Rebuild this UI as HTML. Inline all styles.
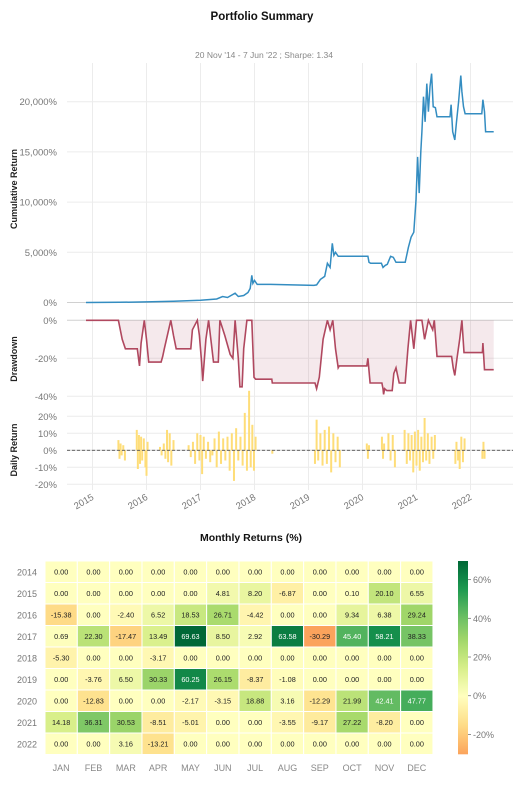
<!DOCTYPE html>
<html><head><meta charset="utf-8">
<style>
html,body{margin:0;padding:0;background:#fff;}
body{width:523px;height:786px;overflow:hidden;font-family:"Liberation Sans",sans-serif;}
svg text{font-family:"Liberation Sans",sans-serif;}
</style></head>
<body>
<svg id="chart" width="523" height="786" viewBox="0 0 523 786">
<text x="262" y="20" text-anchor="middle" font-size="11.5" font-weight="bold" fill="#111">Portfolio Summary</text>
<text x="264" y="58" text-anchor="middle" font-size="8.5" fill="#888">20 Nov '14 -  7 Jun '22 ;  Sharpe: 1.34</text>
<g id="grid"></g>
<g id="cum"></g>
<g id="dd"></g>
<g id="daily"></g>
<text x="251" y="541" text-anchor="middle" font-size="10.5" font-weight="bold" fill="#111">Monthly Returns (%)</text>
<g id="heat"></g>
<g id="cbar"></g>
</svg>
<script>
// ---- data ----
const yearTicks = [2015,2016,2017,2018,2019,2020,2021,2022];
const cumTicks = [0,5000,10000,15000,20000];
const cumTickLabels = ["0%","5,000%","10,000%","15,000%","20,000%"];
const ddTicks = [0,-20,-40];
const ddTickLabels = ["0%","-20%","-40%"];
const dailyTicks = [20,10,0,-10,-20];
const dailyTickLabels = ["20%","10%","0%","-10%","-20%"];

const cumDates = [2014.88,2015.5,2016.0,2016.5,2017.0,2017.3,2017.41,2017.5,2017.64,2017.7,2017.8,2017.88,2017.92,2017.95,2017.97,2018.0,2018.05,2018.3,2019.1,2019.15,2019.22,2019.3,2019.35,2019.4,2019.44,2019.47,2019.5,2019.55,2020.1,2020.12,2020.15,2020.35,2020.38,2020.42,2020.46,2020.52,2020.57,2020.62,2020.79,2020.85,2020.9,2020.95,2020.99,2021.02,2021.05,2021.08,2021.1,2021.13,2021.16,2021.19,2021.22,2021.25,2021.28,2021.31,2021.35,2021.38,2021.62,2021.64,2021.67,2021.71,2021.74,2021.78,2021.82,2021.84,2021.87,2021.9,2022.21,2022.23,2022.26,2022.28,2022.43];
const cumValues = [0,20,60,120,220,350,600,500,930,600,700,1000,1400,2700,1900,2200,1800,1800,1700,1750,2300,2600,3900,3500,5900,4700,5000,4600,4600,4000,3900,3900,3500,3700,3800,4600,4500,4000,4000,5500,6500,7000,10200,14500,10900,15000,17000,20500,18000,21800,19000,21500,22800,19500,19400,18500,18500,19700,17000,16200,18000,20000,22600,21000,19500,18800,18800,20200,19000,17000,17000];

const ddDates = [2014.88,2015.48,2015.55,2015.61,2015.83,2015.87,2015.9,2015.96,2016.0,2016.04,2016.27,2016.3,2016.33,2016.45,2016.5,2016.55,2016.82,2016.85,2016.94,2016.98,2017.02,2017.04,2017.1,2017.15,2017.2,2017.24,2017.33,2017.36,2017.45,2017.55,2017.6,2017.64,2017.7,2017.73,2017.77,2017.8,2017.86,2017.95,2017.99,2018.02,2018.32,2018.33,2019.12,2019.15,2019.2,2019.27,2019.35,2019.4,2019.45,2019.5,2019.55,2019.57,2020.08,2020.1,2020.14,2020.36,2020.38,2020.39,2020.41,2020.45,2020.55,2020.58,2020.62,2020.68,2020.79,2020.84,2020.89,2020.95,2021.0,2021.1,2021.15,2021.22,2021.3,2021.33,2021.38,2021.65,2021.68,2021.71,2021.75,2021.8,2021.84,2021.88,2022.22,2022.23,2022.26,2022.43];
const ddValues = [0,0,-10,-15,-15,-24,-12,0,-10,-22,-22,-19,-15,0,-8,-15,-15,-5,0,-8,-22,-32,-10,0,-12,-22,-22,0,-8,-18,-20,0,-20,-35,-35,-15,0,0,-30,-31,-31,-33,-33,-36,-30,-10,0,-5,0,-15,-25,-24,-24,-20,-33,-33,-36,-39,-36,-37,-37,-28,-25,-33,-33,-15,0,-15,0,0,-10,0,-5,0,-19,-19,-25,-29,-20,-10,0,-17,-17,-12,-26,-26];

const dailyDates = [2015.48,2015.5,2015.52,2015.54,2015.57,2015.6,2015.82,2015.84,2015.86,2015.88,2015.9,2015.92,2015.95,2015.98,2016.0,2016.02,2016.25,2016.28,2016.32,2016.35,2016.38,2016.4,2016.43,2016.46,2016.5,2016.78,2016.82,2016.86,2016.9,2016.94,2016.98,2017.0,2017.03,2017.06,2017.1,2017.14,2017.18,2017.22,2017.26,2017.3,2017.34,2017.38,2017.42,2017.46,2017.5,2017.54,2017.58,2017.62,2017.66,2017.7,2017.74,2017.78,2017.82,2017.86,2017.9,2017.93,2017.96,2017.99,2018.02,2018.33,2019.12,2019.15,2019.18,2019.22,2019.26,2019.3,2019.34,2019.38,2019.42,2019.46,2019.5,2019.54,2019.58,2020.08,2020.1,2020.12,2020.36,2020.38,2020.4,2020.48,2020.52,2020.56,2020.6,2020.78,2020.82,2020.85,2020.88,2020.91,2020.94,2020.97,2021.0,2021.03,2021.06,2021.09,2021.12,2021.15,2021.18,2021.21,2021.24,2021.28,2021.31,2021.34,2021.72,2021.74,2021.77,2021.8,2021.83,2021.86,2021.89,2022.22,2022.24,2022.26];
const dailyValues = [6,-5,4,-3,3,-6,12,-11,9,-8,8,-6,7,-10,-15,5,2,-3,4,-5,12,-7,10,-9,6,3,-4,5,-8,10,-6,9,-14,8,-5,5,-7,-3,7,-10,11,-8,7,-6,8,-12,10,-18,13,-6,8,-9,22,-12,35,-10,15,-12,8,-2,-8,18,-6,10,-9,12,-8,14,-13,10,-7,8,-10,4,-5,3,8,-5,4,10,-6,9,-10,12,-8,10,-6,9,-13,11,-9,12,-12,8,-7,19,-6,10,-8,8,-5,9,-8,5,-6,-11,8,-7,7,-5,5,-5,6,-6,4];

const hmYears = ["2014","2015","2016","2017","2018","2019","2020","2021","2022"];
const hmMonths = ["JAN","FEB","MAR","APR","MAY","JUN","JUL","AUG","SEP","OCT","NOV","DEC"];
const hm2014 = [0,0,0,0,0,0,0,0,0,0,0,0];
const hm2015 = [0,0,0,0,0,4.81,8.20,-6.87,0,0.10,20.10,6.55];
const hm2016 = [-15.38,0,-2.40,6.52,18.53,26.71,-4.42,0,0,9.34,6.38,29.24];
const hm2017 = [0.69,22.30,-17.47,13.49,69.63,8.50,2.92,63.58,-30.29,45.40,58.21,38.33];
const hm2018 = [-5.30,0,0,-3.17,0,0,0,0,0,0,0,0];
const hm2019 = [0,-3.76,6.50,30.33,60.25,26.15,-8.37,-1.08,0,0,0,0];
const hm2020 = [0,-12.83,0,0,-2.17,-3.15,18.88,3.16,-12.29,21.99,42.41,47.77];
const hm2021 = [14.18,36.31,30.53,-8.51,-5.01,0,0,-3.55,-9.17,27.22,-8.20,0];
const hm2022 = [0,0,3.16,-13.21,0,0,0,0,0,0,0,0];
const hmRows = [hm2014,hm2015,hm2016,hm2017,hm2018,hm2019,hm2020,hm2021,hm2022];
const cbTicks = [60,40,20,0,-20];
const cbTickLabels = ["60%","40%","20%","0%","-20%"];

// ---- helpers ----
const NS="http://www.w3.org/2000/svg";
function mk(tag,attrs,parent,txt){const e=document.createElementNS(NS,tag);for(const k in attrs)e.setAttribute(k,attrs[k]);if(txt!==undefined)e.textContent=txt;parent.appendChild(e);return e;}
const X0=67,X1=513;
const xs=y=>92.5+(y-2015)*54;
const ysCum=v=>302.5-v/5000*50.2;
function ysD(v){return 320.3-v*1.9;}
const ysDaily=v=>450.3-v*1.7;
const grid=document.getElementById('grid');
yearTicks.forEach(y=>{const l=mk('line',{x1:xs(y),x2:xs(y),y1:63,y2:490,stroke:'#ececec','stroke-width':1},grid);

const t=mk('text',{x:0,y:0,'font-size':9.5,fill:'#777','text-anchor':'end',transform:`translate(${xs(y)+2},${499}) rotate(-30)`},grid,String(y));
});
function hgrid(ticks,labels,fy,g,name){ticks.forEach((v,i)=>{const y=fy(v);
const l=mk('line',{x1:X0,x2:X1,y1:y,y2:y,stroke:v===0?'#d0d0d0':'#ececec','stroke-width':1},g);

const t=mk('text',{x:57,y:y+3.5,'font-size':9.5,fill:'#777','text-anchor':'end'},g,labels[i]);
});}
const cum=document.getElementById('cum'),dd=document.getElementById('dd'),daily=document.getElementById('daily');
hgrid(cumTicks,cumTickLabels,ysCum,cum,'cum');
hgrid(ddTicks,ddTickLabels,ysD,dd,'dd');
hgrid(dailyTicks,dailyTickLabels,ysDaily,daily,'daily');
function ylab(txt,x,y,g,name){const t=mk('text',{x:0,y:0,'font-size':9,'font-weight':'bold',fill:'#222','text-anchor':'middle',transform:`translate(${x},${y}) rotate(-90)`},g,txt);}
ylab('Cumulative Return',17,189,cum,'cum-y-axis-title');
ylab('Drawdown',17,359,dd,'dd-y-axis-title');
ylab('Daily Return',17,450,daily,'daily-y-axis-title');
let p=cumDates.map((d,i)=>(i?'L':'M')+xs(d).toFixed(1)+','+ysCum(cumValues[i]).toFixed(1)).join('');
const cl=mk('path',{d:p,fill:'none',stroke:'#348dc1','stroke-width':1.5},cum);

let dp=ddDates.map((d,i)=>(i?'L':'M')+xs(d).toFixed(1)+','+ysD(ddValues[i]).toFixed(1)).join('');
const fa=mk('path',{d:dp+`L${xs(ddDates[ddDates.length-1])},${ysD(0)}L${xs(ddDates[0])},${ysD(0)}Z`,fill:'rgba(175,70,100,0.12)',stroke:'none'},dd);

const dl=mk('path',{d:dp,fill:'none',stroke:'#b0485f','stroke-width':1.6},dd);

dailyDates.forEach((d,i)=>{const b=mk('line',{x1:xs(d),x2:xs(d),y1:ysDaily(0),y2:ysDaily(dailyValues[i]),stroke:'#fedd78','stroke-width':2},daily);
});
const zl=mk('line',{x1:X0,x2:X1,y1:ysDaily(0),y2:ysDaily(0),stroke:'#555','stroke-width':0.8,'stroke-dasharray':'3,2'},daily);

const stops=['#a50026','#d73027','#f46d43','#fdae61','#fee08b','#ffffbf','#d9ef8b','#a6d96a','#66bd63','#1a9850','#006837'];
function hx(h){return [1,3,5].map(i=>parseInt(h.substr(i,2),16));}
function cmap(v){let t=0.5+v/139.3;t=Math.max(0,Math.min(1,t));const f=t*10,i=Math.min(9,Math.floor(f)),r=f-i;const a=hx(stops[i]),b=hx(stops[i+1]);return 'rgb('+a.map((c,k)=>Math.round(c+(b[k]-c)*r)).join(',')+')';}
const heat=document.getElementById('heat');
const HX=45,HY=561,CW=32.33,CH=21.5;
hmRows.forEach((row,r)=>{
 const yl=mk('text',{x:37,y:HY+r*CH+CH/2+3.5,'font-size':9,fill:'#777','text-anchor':'end'},heat,hmYears[r]);
 
 row.forEach((v,c)=>{
  const rc=mk('rect',{x:HX+c*CW,y:HY+r*CH,width:CW,height:CH,fill:cmap(v),stroke:'#fff','stroke-width':1},heat);
  
  const tx=mk('text',{x:HX+c*CW+CW/2,y:HY+r*CH+CH/2+2.6,'font-size':7.3,fill:Math.abs(v)>40?'#fff':'#222','text-anchor':'middle'},heat,v.toFixed(2));
  
 });});
hmMonths.forEach((m,c)=>{const t=mk('text',{x:HX+c*CW+CW/2,y:771,'font-size':9,fill:'#888','text-anchor':'middle'},heat,m);
});
const cbar=document.getElementById('cbar');
const CB0=561,CB1=754.3,vmax=69.63,vmin=-30.29;
const cy=v=>CB0+(vmax-v)/(vmax-vmin)*(CB1-CB0);
const defs=mk('defs',{},cbar);const lg=mk('linearGradient',{id:'cbg',x1:0,y1:0,x2:0,y2:1},defs);
for(let k=0;k<=20;k++){const v=vmax-(vmax-vmin)*k/20;mk('stop',{offset:k/20,'stop-color':cmap(v)},lg);}
const cr=mk('rect',{x:458,y:CB0,width:10,height:CB1-CB0,fill:'url(#cbg)'},cbar);

cbTicks.forEach((v,i)=>{mk('line',{x1:468,x2:471,y1:cy(v),y2:cy(v),stroke:'#777','stroke-width':0.8},cbar);
const t=mk('text',{x:473,y:cy(v)+3.5,'font-size':9,fill:'#777'},cbar,cbTickLabels[i]);
});
</script>
</body></html>
